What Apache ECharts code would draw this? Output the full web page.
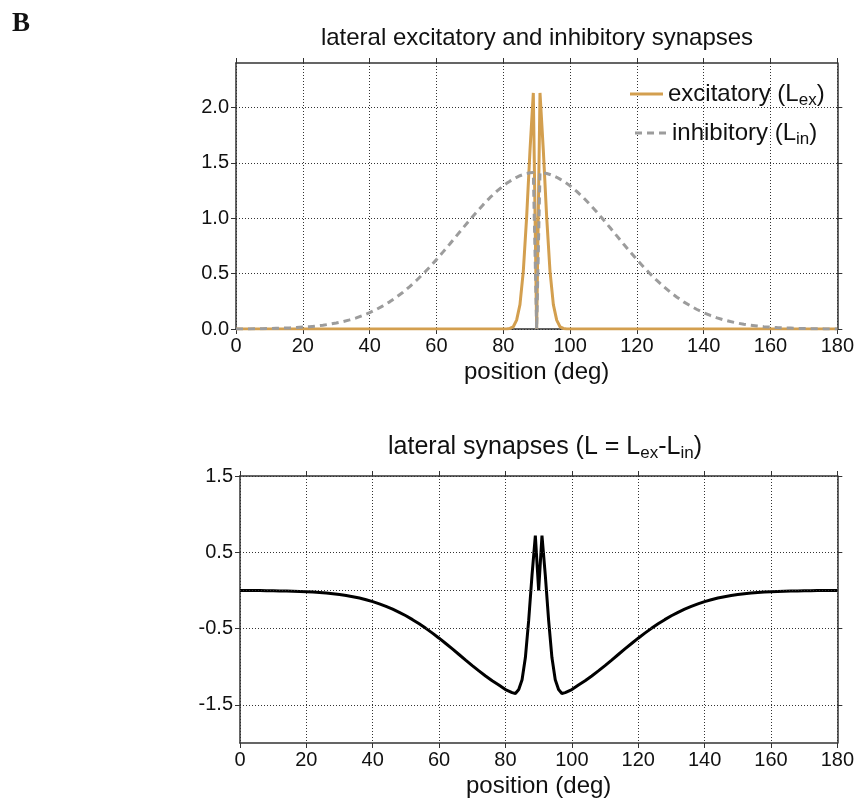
<!DOCTYPE html>
<html><head><meta charset="utf-8">
<script src="https://cdn.jsdelivr.net/npm/echarts@6/dist/echarts.min.js"></script>
<style>html,body{margin:0;padding:0;background:#fff}#c{width:857px;height:810px}</style>
</head><body><div id="c"></div>
<script>
// x positions (deg)
const positions = [0,2,4,6,8,10,12,14,16,18,20,22,24,26,28,30,32,34,36,38,40,42,44,46,48,50,52,54,56,58,60,62,64,66,68,70,72,74,76,78,
  80,81,82,83,84,85,86,87,88,89,90,91,92,93,94,95,96,97,98,99,100,
  102,104,106,108,110,112,114,116,118,120,122,124,126,128,130,132,134,136,138,140,142,144,146,148,150,152,154,156,158,160,162,164,166,168,170,172,174,176,178,180];
// excitatory lateral synapses L_ex
const lexValues = [0,0,0,0,0,0,0,0,0,0, 0,0,0,0,0,0,0,0,0,0, 0,0,0,0,0,0,0,0,0,0, 0,0,0,0,0,0,0,0,0,0,
  0,0,0.005,0.02,0.08,0.22,0.52,1.01,1.61,2.13,0,2.13,1.61,1.01,0.52,0.22,0.08,0.02,0.005,0,0,
  0,0,0,0,0,0,0,0,0,0, 0,0,0,0,0,0,0,0,0,0, 0,0,0,0,0,0,0,0,0,0, 0,0,0,0,0,0,0,0,0,0];
// inhibitory lateral synapses L_in
const linValues = [0.000,0.001,0.001,0.002,0.003,0.004,0.006,0.008,0.010,0.013,
  0.017,0.021,0.027,0.034,0.043,0.054,0.067,0.082,0.100,0.122,
  0.147,0.176,0.209,0.245,0.287,0.332,0.383,0.438,0.497,0.560,
  0.626,0.696,0.767,0.840,0.913,0.985,1.055,1.122,1.185,1.241,
  1.292,1.314,1.334,1.352,1.369,1.383,1.394,1.403,1.409,1.413,0,1.413,1.409,1.403,1.394,1.383,1.369,1.352,1.334,1.314,1.292,
  1.241,1.185,1.122,1.055,0.985,0.913,0.840,0.767,0.696,0.626,
  0.560,0.497,0.438,0.383,0.332,0.287,0.245,0.209,0.176,0.147,
  0.122,0.100,0.082,0.067,0.054,0.043,0.034,0.027,0.021,0.017,
  0.013,0.010,0.008,0.006,0.004,0.003,0.002,0.001,0.001,0.000];
// net lateral synapses L = L_ex - L_in
const latValues = [0.000,-0.001,-0.001,-0.002,-0.003,-0.004,-0.006,-0.008,-0.010,-0.013,
  -0.017,-0.021,-0.027,-0.034,-0.043,-0.054,-0.067,-0.082,-0.100,-0.122,
  -0.147,-0.176,-0.209,-0.245,-0.287,-0.332,-0.383,-0.438,-0.497,-0.560,
  -0.626,-0.696,-0.767,-0.840,-0.913,-0.985,-1.055,-1.122,-1.185,-1.241,
  -1.30,-1.32,-1.34,-1.35,-1.30,-1.17,-0.88,-0.39,0.20,0.72,0,0.72,0.20,-0.39,-0.88,-1.17,-1.30,-1.35,-1.34,-1.32,-1.30,
  -1.241,-1.185,-1.122,-1.055,-0.985,-0.913,-0.840,-0.767,-0.696,-0.626,
  -0.560,-0.497,-0.438,-0.383,-0.332,-0.287,-0.245,-0.209,-0.176,-0.147,
  -0.122,-0.100,-0.082,-0.067,-0.054,-0.043,-0.034,-0.027,-0.021,-0.017,
  -0.013,-0.010,-0.008,-0.006,-0.004,-0.003,-0.002,-0.001,-0.001,0.000];
const topYTicks = [0, 0.5, 1.0, 1.5, 2.0];
const bottomYTicks = [-1.5, -0.5, 0.5, 1.5];
const bottomYGrid = [1.5, 0.5, 0, -0.5, -1.5];

const FONT = '"Liberation Sans", Arial, Helvetica, sans-serif';
const TXT = '#111';
const AX = '#333';
const gridLine = {show: true, lineStyle: {color: '#333', type: [1, 2], width: 1}};

function xAx(gridIndex, pos, labels) {
  return {
    type: 'value', gridIndex, position: pos, min: 0, max: 180, interval: 20,
    axisLine: {show: true, onZero: false, lineStyle: {color: AX, width: 1.5}},
    axisTick: {show: true, inside: false, length: 5, lineStyle: {color: AX, width: 1}},
    axisLabel: {show: labels, color: TXT, fontSize: 20, fontFamily: FONT, margin: 7},
    splitLine: labels ? gridLine : {show: false},
    name: labels ? 'position (deg)' : '', nameLocation: 'middle', nameGap: 31,
    nameTextStyle: {color: TXT, fontSize: 24, fontFamily: FONT}
  };
}
function yAx(gridIndex, pos, labels, min, max, ticks, split) {
  return {
    type: 'value', gridIndex, position: pos, min, max, interval: 0.5,
    axisLine: {show: true, onZero: false, lineStyle: {color: AX, width: 1.5}},
    axisTick: {show: true, inside: false, length: 5, customValues: ticks, lineStyle: {color: AX, width: 1}},
    axisLabel: {show: labels, customValues: ticks, color: TXT, fontSize: 20, fontFamily: FONT, margin: 7,
      formatter: v => v.toFixed(1)},
    splitLine: split ? gridLine : {show: false}
  };
}

const chart = echarts.init(document.getElementById('c'), null, {renderer: 'canvas'});
const sub = {fontSize: 17, lineHeight: 17, verticalAlign: 'bottom', fontFamily: FONT, color: TXT};
const legendText = {color: TXT, fontSize: 24, lineHeight: 30, fontFamily: FONT, rich: {sub}};
const dashIcon = 'path://M0,0h7v3h-7z M12,0h7v3h-7z M24,0h7v3h-7z';

chart.setOption({
  animation: false,
  backgroundColor: '#fff',
  grid: [
    {left: 236, right: 17, top: 63, height: 266},
    {left: 240, right: 14, top: 476, height: 267}
  ],
  xAxis: [xAx(0, 'bottom', true), xAx(0, 'top', false), xAx(1, 'bottom', true), xAx(1, 'top', false)],
  yAxis: [
    yAx(0, 'left', true, 0, 2.4, topYTicks, true),
    yAx(0, 'right', false, 0, 2.4, topYTicks, false),
    yAx(1, 'left', true, -2, 1.5, bottomYTicks, false),
    yAx(1, 'right', false, -2, 1.5, bottomYTicks, false)
  ],
  legend: [
    {data: [{name: 'excitatory', icon: 'rect'}], left: 630, top: 79, padding: 0, itemWidth: 33, itemHeight: 3,
      formatter: () => 'excitatory (L{sub|ex})', textStyle: legendText},
    {data: [{name: 'inhibitory', icon: dashIcon}], left: 635, top: 118, padding: 0, itemWidth: 33, itemHeight: 3,
      formatter: () => 'inhibitory (L{sub|in})', textStyle: legendText}
  ],
  graphic: [
    {type: 'text', left: 12, top: 11, style: {text: 'B', font: 'bold 27px "Liberation Serif", "Times New Roman", serif', fill: '#111'}},
    {type: 'text', x: 537, y: 38, style: {text: 'lateral excitatory and inhibitory synapses', fill: TXT,
      font: '24px ' + FONT, textAlign: 'center', textVerticalAlign: 'middle'}},
    {type: 'text', x: 545, y: 447, style: {text: 'lateral synapses (L = L{sub|ex}-L{sub|in})', fill: TXT,
      fontSize: 25, fontFamily: FONT, lineHeight: 30, align: 'center', verticalAlign: 'middle', rich: {sub: {fontSize: 17, lineHeight: 17, verticalAlign: 'bottom', fontFamily: FONT, fill: TXT}}}}
  ],
  series: [
    {name: 'excitatory', type: 'line', xAxisIndex: 0, yAxisIndex: 0, symbol: 'none',
      data: positions.map((x, i) => [x, lexValues[i]]),
      lineStyle: {color: '#d39f4f', width: 3}, itemStyle: {color: '#d39f4f'}, z: 3},
    {name: 'inhibitory', type: 'line', xAxisIndex: 0, yAxisIndex: 0, symbol: 'none',
      data: positions.map((x, i) => [x, linValues[i]]),
      lineStyle: {color: '#9c9c9c', width: 3, type: [7, 5]}, itemStyle: {color: '#9c9c9c'}, z: 4},
    {name: 'L', type: 'line', xAxisIndex: 2, yAxisIndex: 2, symbol: 'none',
      data: positions.map((x, i) => [x, latValues[i]]),
      lineStyle: {color: '#000', width: 3}, z: 4,
      markLine: {silent: true, symbol: 'none', label: {show: false},
        lineStyle: {color: '#333', type: [1, 2], width: 1},
        data: bottomYGrid.map(v => ({yAxis: v}))}}
  ]
});
</script></body></html>
